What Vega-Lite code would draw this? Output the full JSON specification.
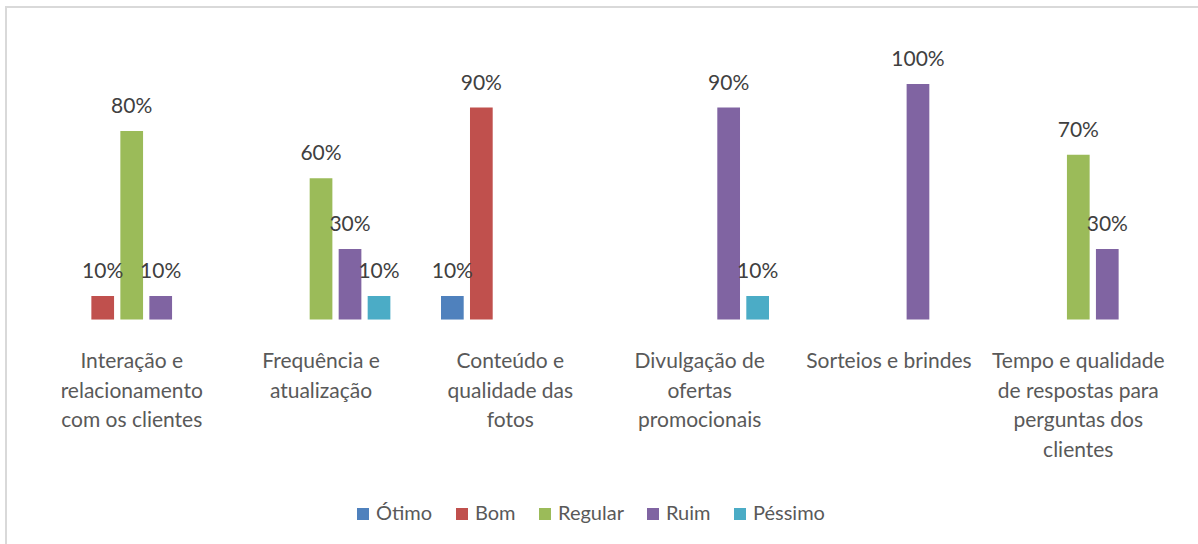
{
  "$schema": "https://vega.github.io/schema/vega-lite/v6.json",
  "width": 1198,
  "height": 545,
  "autosize": {"type": "none"},
  "padding": {"left": 6, "top": 7, "right": 0, "bottom": 0},
  "background": "white",
  "config": {
    "view": {"stroke": "#D9D9D9", "strokeWidth": 2},
    "font": "Lato",
    "legend": {"padding": 0}
  },
  "datasets": {
    "categorias": [
      {"categoria": "Interação e|relacionamento|com os clientes"},
      {"categoria": "Frequência e|atualização"},
      {"categoria": "Conteúdo e|qualidade das|fotos"},
      {"categoria": "Divulgação de|ofertas|promocionais"},
      {"categoria": "Sorteios e brindes"},
      {"categoria": "Tempo e qualidade|de respostas para|perguntas dos|clientes"}
    ],
    "avaliacoes": [
      {"categoria": "Interação e|relacionamento|com os clientes", "avaliacao": "Bom", "pct": 0.1},
      {"categoria": "Interação e|relacionamento|com os clientes", "avaliacao": "Regular", "pct": 0.8},
      {"categoria": "Interação e|relacionamento|com os clientes", "avaliacao": "Ruim", "pct": 0.1},
      {"categoria": "Frequência e|atualização", "avaliacao": "Regular", "pct": 0.6},
      {"categoria": "Frequência e|atualização", "avaliacao": "Ruim", "pct": 0.3},
      {"categoria": "Frequência e|atualização", "avaliacao": "Péssimo", "pct": 0.1},
      {"categoria": "Conteúdo e|qualidade das|fotos", "avaliacao": "Ótimo", "pct": 0.1},
      {"categoria": "Conteúdo e|qualidade das|fotos", "avaliacao": "Bom", "pct": 0.9},
      {"categoria": "Divulgação de|ofertas|promocionais", "avaliacao": "Ruim", "pct": 0.9},
      {"categoria": "Divulgação de|ofertas|promocionais", "avaliacao": "Péssimo", "pct": 0.1},
      {"categoria": "Sorteios e brindes", "avaliacao": "Ruim", "pct": 1.0},
      {"categoria": "Tempo e qualidade|de respostas para|perguntas dos|clientes", "avaliacao": "Regular", "pct": 0.7},
      {"categoria": "Tempo e qualidade|de respostas para|perguntas dos|clientes", "avaliacao": "Ruim", "pct": 0.3}
    ]
  },
  "data": {"name": "avaliacoes"},
  "encoding": {
    "x": {
      "field": "categoria",
      "type": "nominal",
      "sort": null,
      "scale": {
        "domain": [
          "Interação e|relacionamento|com os clientes",
          "Frequência e|atualização",
          "Conteúdo e|qualidade das|fotos",
          "Divulgação de|ofertas|promocionais",
          "Sorteios e brindes",
          "Tempo e qualidade|de respostas para|perguntas dos|clientes"
        ],
        "paddingInner": 0,
        "paddingOuter": 0.164
      },
      "axis": {
        "orient": "bottom",
        "offset": -232.5,
        "title": null,
        "domain": false,
        "ticks": false,
        "labelAngle": 0,
        "labelFont": "Lato",
        "labelFontSize": 21,
        "labelColor": "#595959",
        "labelPadding": 31,
        "labelLineHeight": 29.5,
        "labelLimit": 400,
        "labelOverlap": false,
        "labelExpr": "split(datum.label, '|')"
      }
    },
    "y": {
      "field": "pct",
      "type": "quantitative",
      "scale": {"domain": [-0.987, 1.327], "nice": false, "zero": false},
      "axis": null
    }
  },
  "layer": [
    {
      "data": {"name": "categorias"},
      "mark": {"type": "bar", "color": "#D9D9D9"},
      "encoding": {
        "y": {"datum": 0},
        "y2": {"datum": -0.0064}
      }
    },
    {
      "mark": {"type": "bar"},
      "encoding": {
        "xOffset": {
          "field": "avaliacao",
          "type": "nominal",
          "scale": {
            "domain": ["Ótimo", "Bom", "Regular", "Ruim", "Péssimo"],
            "paddingInner": 0.217,
            "paddingOuter": 0.873
          }
        },
        "y2": {"datum": 0},
        "color": {
          "field": "avaliacao",
          "type": "nominal",
          "scale": {
            "domain": ["Ótimo", "Bom", "Regular", "Ruim", "Péssimo"],
            "range": ["#4F81BD", "#C0504D", "#9BBB59", "#8064A2", "#4BACC6"]
          },
          "legend": {
            "title": null,
            "orient": "none",
            "direction": "horizontal",
            "legendX": 347,
            "legendY": 497,
            "symbolType": "square",
            "symbolSize": 144,
            "symbolStrokeWidth": 0,
            "labelFont": "Lato",
            "labelFontSize": 20,
            "labelColor": "#595959",
            "labelOffset": 3,
            "columnPadding": 19
          }
        }
      }
    },
    {
      "mark": {"type": "text", "dy": -18, "baseline": "alphabetic", "font": "Lato", "fontSize": 21, "color": "#404040"},
      "encoding": {
        "xOffset": {
          "field": "avaliacao",
          "type": "nominal",
          "scale": {
            "domain": ["Ótimo", "Bom", "Regular", "Ruim", "Péssimo"],
            "paddingInner": 0.217,
            "paddingOuter": 0.873
          }
        },
        "text": {"field": "pct", "type": "quantitative", "format": ".0%"}
      }
    }
  ]
}
